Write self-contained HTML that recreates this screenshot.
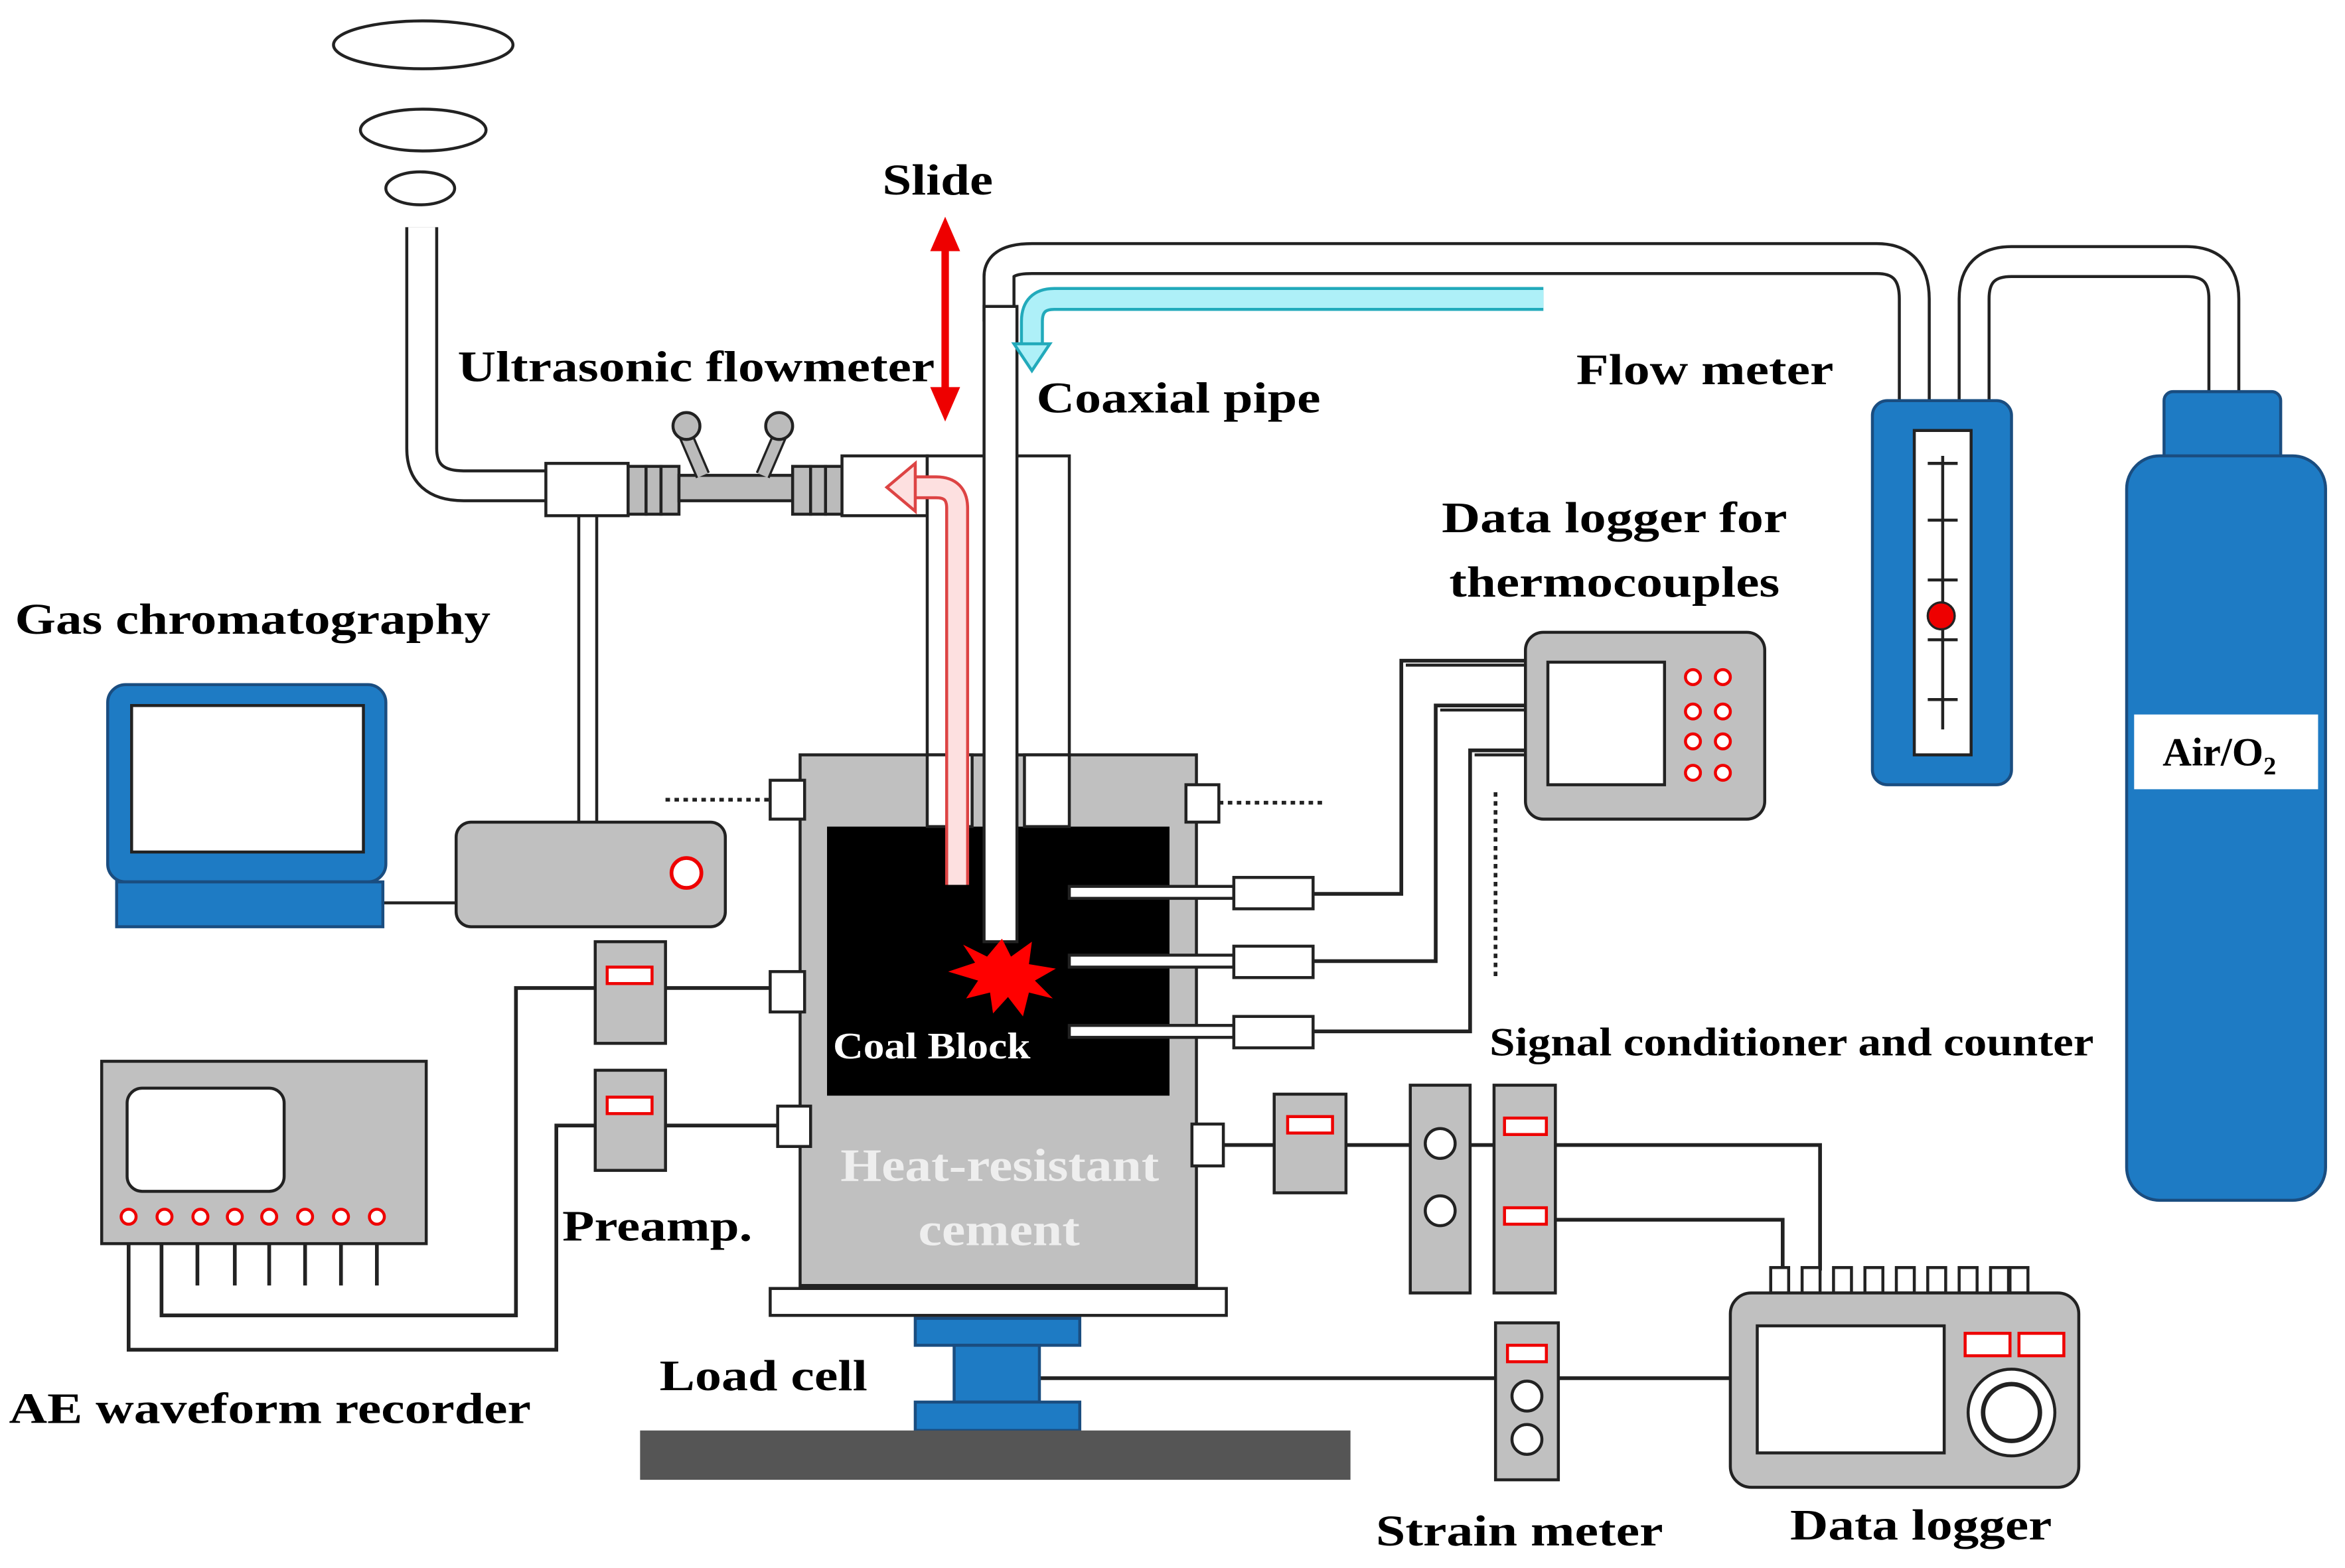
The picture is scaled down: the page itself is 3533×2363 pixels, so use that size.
<!DOCTYPE html>
<html><head><meta charset="utf-8"><style>
html,body{margin:0;padding:0;background:#fff;}
svg{display:block;}
text{font-family:"Liberation Serif",serif;font-weight:bold;}
</style></head><body>
<svg width="3533" height="2363" viewBox="0 0 1568 1049" preserveAspectRatio="none" xmlns="http://www.w3.org/2000/svg">
<rect width="1568" height="1049" fill="#fff"/>
<g fill="#fff" stroke="#222" stroke-width="2">
<ellipse cx="283" cy="30" rx="60" ry="16"/>
<ellipse cx="283" cy="87" rx="42" ry="14"/>
<ellipse cx="281" cy="126" rx="23" ry="11"/>
</g>
<g fill="none" stroke-linejoin="round">
<path d="M282 152 V300 Q282 325 310 325 H370" stroke="#222" stroke-width="22"/>
<path d="M282 152 V300 Q282 325 310 325 H370" stroke="#fff" stroke-width="18"/>
<path d="M668 215 V185 Q668 173 690 173 H1255 Q1280 173 1280 200 V270" stroke="#222" stroke-width="22"/>
<path d="M668 215 V185 Q668 173 690 173 H1255 Q1280 173 1280 200 V270" stroke="#fff" stroke-width="18"/>
<path d="M1320 268 V200 Q1320 175 1345 175 H1462 Q1487 175 1487 200 V265" stroke="#222" stroke-width="22"/>
<path d="M1320 268 V200 Q1320 175 1345 175 H1462 Q1487 175 1487 200 V265" stroke="#fff" stroke-width="18"/>
<path d="M393 340 V552" stroke="#222" stroke-width="14"/>
<path d="M393 340 V552" stroke="#fff" stroke-width="10"/>
</g>
<g stroke="#222" stroke-width="2">
<rect x="365" y="310" width="55" height="35" fill="#fff"/>
<rect x="420" y="312" width="12" height="32" fill="#bbb"/>
<rect x="432" y="312" width="10" height="32" fill="#bbb"/>
<rect x="442" y="312" width="12" height="32" fill="#bbb"/>
<rect x="454" y="318" width="76" height="17" fill="#bbb"/>
<rect x="530" y="312" width="12" height="32" fill="#bbb"/>
<rect x="542" y="312" width="10" height="32" fill="#bbb"/>
<rect x="552" y="312" width="12" height="32" fill="#bbb"/>
<path d="M470 318 L458 290" stroke-width="10" stroke="#222"/><path d="M470 318 L458 290" stroke-width="7" stroke="#bbb"/>
<path d="M510 318 L522 290" stroke-width="10" stroke="#222"/><path d="M510 318 L522 290" stroke-width="7" stroke="#bbb"/>
<circle cx="459" cy="285" r="9" fill="#bbb"/><circle cx="521" cy="285" r="9" fill="#bbb"/>
<rect x="563" y="305" width="57" height="40" fill="#fff"/>
</g>
<rect x="305" y="550" width="180" height="70" rx="10" fill="#c0c0c0" stroke="#222" stroke-width="2"/>
<circle cx="459" cy="584" r="10" fill="#fff" stroke="#e00" stroke-width="2.5"/>
<path d="M256 604 H305" stroke="#222" stroke-width="2"/>
<rect x="72" y="458" width="186" height="132" rx="12" fill="#1e7bc4" stroke="#1a4d80" stroke-width="2"/>
<rect x="88" y="472" width="155" height="98" fill="#fff" stroke="#222" stroke-width="2"/>
<rect x="78" y="590" width="178" height="30" fill="#1e7bc4" stroke="#1a4d80" stroke-width="2"/>
<rect x="535" y="505" width="265" height="355" fill="#c0c0c0" stroke="#222" stroke-width="2"/>
<rect x="553" y="553" width="229" height="180" fill="#000"/>
<rect x="620" y="305" width="95" height="200" fill="#fff" stroke="#222" stroke-width="2"/>
<rect x="620" y="505" width="30" height="48" fill="#fff" stroke="#222" stroke-width="2"/>
<rect x="685" y="505" width="30" height="48" fill="#fff" stroke="#222" stroke-width="2"/>
<rect x="658" y="205" width="22" height="425" fill="#fff" stroke="#222" stroke-width="2"/>
<path d="M640 592 V340 Q640 326 626 326 H610" fill="none" stroke="#d44" stroke-width="16"/>
<path d="M640 592 V340 Q640 326 626 326 H610" fill="none" stroke="#fde0e0" stroke-width="12"/>
<path d="M612 310 L593 326 L612 342 Z" fill="#fde0e0" stroke="#d44" stroke-width="2"/>
<path d="M1032 200 H705 Q690 200 690 215 V232" fill="none" stroke="#2ab" stroke-width="16"/>
<path d="M1032 200 H705 Q690 200 690 215 V232" fill="none" stroke="#aef0f8" stroke-width="12"/>
<path d="M678 230 L690 248 L702 230 Z" fill="#aef0f8" stroke="#2ab" stroke-width="2"/>
<polygon points="670,628 676,640 690,630 688,645 706,648 692,656 704,668 688,664 684,680 674,667 664,678 662,664 646,668 654,656 634,650 652,644 644,632 660,640" fill="#f00"/>
<path d="M632 165 V262" stroke="#e00" stroke-width="5"/>
<polygon points="632,145 622,168 642,168" fill="#e00"/>
<polygon points="632,282 622,259 642,259" fill="#e00"/>
<g fill="#fff" stroke="#222" stroke-width="2">
<rect x="515" y="522" width="23" height="26"/>
<rect x="793" y="525" width="22" height="25"/>
<rect x="515" y="650" width="23" height="27"/>
<rect x="520" y="740" width="22" height="27"/>
<rect x="797" y="752" width="21" height="28"/>
</g>
<g stroke="#222" stroke-width="2.5" stroke-dasharray="3,3" fill="none">
<path d="M445 535 H515"/><path d="M815 537 H885"/><path d="M1000 530 V655"/>
</g>
<g stroke="#222" stroke-width="2" fill="#fff">
<rect x="715" y="593" width="110" height="8"/><rect x="825" y="587" width="53" height="21"/>
<rect x="715" y="639" width="110" height="8"/><rect x="825" y="633" width="53" height="21"/>
<rect x="715" y="686" width="110" height="8"/><rect x="825" y="680" width="53" height="21"/>
</g>
<g stroke="#222" stroke-width="2.5" fill="none">
<path d="M878 598 H937 V442 H1020"/>
<path d="M878 643 H960 V472 H1020"/>
<path d="M878 690 H983 V502 H1020"/>
</g>
<g stroke="#222" stroke-width="2" fill="none">
<path d="M940 445 H1020 M963 475 H1020 M986 505 H1020"/>
</g>
<rect x="1020" y="423" width="160" height="125" rx="12" fill="#c0c0c0" stroke="#222" stroke-width="2"/>
<rect x="1035" y="443" width="78" height="82" fill="#fff" stroke="#222" stroke-width="2"/>
<g fill="#fff" stroke="#e00" stroke-width="2">
<circle cx="1132" cy="453" r="5"/><circle cx="1152" cy="453" r="5"/>
<circle cx="1132" cy="476" r="5"/><circle cx="1152" cy="476" r="5"/>
<circle cx="1132" cy="496" r="5"/><circle cx="1152" cy="496" r="5"/>
<circle cx="1132" cy="517" r="5"/><circle cx="1152" cy="517" r="5"/>
</g>
<rect x="1252" y="268" width="93" height="257" rx="10" fill="#1e7bc4" stroke="#1a4d80" stroke-width="2"/>
<rect x="1280" y="288" width="38" height="217" fill="#fff" stroke="#222" stroke-width="2"/>
<g stroke="#222" stroke-width="2"><path d="M1299 305 V488 M1289 310 H1309 M1289 348 H1309 M1289 388 H1309 M1289 428 H1309 M1289 468 H1309"/></g>
<circle cx="1298" cy="412" r="9" fill="#e00" stroke="#222" stroke-width="1.5"/>
<rect x="1447" y="262" width="78" height="50" rx="6" fill="#1e7bc4" stroke="#1a4d80" stroke-width="2"/>
<rect x="1422" y="305" width="133" height="498" rx="22" fill="#1e7bc4" stroke="#1a4d80" stroke-width="2"/>
<rect x="1427" y="478" width="123" height="50" fill="#fff"/>
<text x="1446" y="512" font-size="27">Air/O<tspan font-size="17" dy="6">2</tspan></text>
<g stroke="#222" stroke-width="2.5" fill="none">
<path d="M445 661 H515"/><path d="M445 753 H520"/>
<path d="M398 661 H345 V880 H108 V832"/>
<path d="M398 753 H372 V903 H86 V832"/>
<path d="M818 766 H852"/>
<path d="M900 766 H943"/>
<path d="M983 766 H999"/>
<path d="M1040 766 H1217 V850"/>
<path d="M1040 816 H1192 V850"/>
<path d="M695 922 H1000"/>
<path d="M1042 922 H1157"/>
</g>
<g stroke="#222" stroke-width="2" fill="#c0c0c0">
<rect x="398" y="630" width="47" height="68"/>
<rect x="398" y="716" width="47" height="67"/>
<rect x="852" y="732" width="48" height="66"/>
<rect x="943" y="726" width="40" height="139"/>
<rect x="999" y="726" width="41" height="139"/>
<rect x="1000" y="885" width="42" height="105"/>
</g>
<g fill="#fff" stroke="#e00" stroke-width="2">
<rect x="406" y="647" width="30" height="11"/>
<rect x="406" y="734" width="30" height="11"/>
<rect x="861" y="747" width="30" height="11"/>
<rect x="1006" y="748" width="28" height="11"/>
<rect x="1006" y="808" width="28" height="11"/>
<rect x="1008" y="900" width="26" height="11"/>
</g>
<g fill="#fff" stroke="#222" stroke-width="2">
<circle cx="963" cy="765" r="10"/><circle cx="963" cy="810" r="10"/>
<circle cx="1021" cy="934" r="10"/><circle cx="1021" cy="963" r="10"/>
</g>
<rect x="68" y="710" width="217" height="122" fill="#c0c0c0" stroke="#222" stroke-width="2"/>
<rect x="85" y="728" width="105" height="69" rx="10" fill="#fff" stroke="#222" stroke-width="2"/>
<g fill="#fff" stroke="#e00" stroke-width="2">
<circle cx="86" cy="814" r="5"/><circle cx="110" cy="814" r="5"/><circle cx="134" cy="814" r="5"/><circle cx="157" cy="814" r="5"/><circle cx="180" cy="814" r="5"/><circle cx="204" cy="814" r="5"/><circle cx="228" cy="814" r="5"/><circle cx="252" cy="814" r="5"/>
</g>
<g stroke="#222" stroke-width="2.5"><path d="M132 832 V860 M157 832 V860 M180 832 V860 M204 832 V860 M228 832 V860 M252 832 V860"/></g>
<rect x="515" y="862" width="305" height="18" fill="#fff" stroke="#222" stroke-width="2"/>
<rect x="612" y="882" width="110" height="18" fill="#1e7bc4" stroke="#1a4d80" stroke-width="2"/>
<rect x="638" y="900" width="57" height="38" fill="#1e7bc4" stroke="#1a4d80" stroke-width="2"/>
<rect x="612" y="938" width="110" height="19" fill="#1e7bc4" stroke="#1a4d80" stroke-width="2"/>
<rect x="428" y="957" width="475" height="33" fill="#555"/>
<g fill="#fff" stroke="#222" stroke-width="2">
<rect x="1184" y="848" width="12" height="17"/><rect x="1205" y="848" width="12" height="17"/><rect x="1226" y="848" width="12" height="17"/><rect x="1247" y="848" width="12" height="17"/><rect x="1268" y="848" width="12" height="17"/><rect x="1289" y="848" width="12" height="17"/><rect x="1310" y="848" width="12" height="17"/><rect x="1331" y="848" width="12" height="17"/><rect x="1344" y="848" width="12" height="17"/>
</g>
<rect x="1157" y="865" width="233" height="130" rx="14" fill="#c0c0c0" stroke="#222" stroke-width="2"/>
<rect x="1175" y="887" width="125" height="85" fill="#fff" stroke="#222" stroke-width="2"/>
<rect x="1314" y="892" width="30" height="15" fill="#fff" stroke="#e00" stroke-width="2"/>
<rect x="1350" y="892" width="30" height="15" fill="#fff" stroke="#e00" stroke-width="2"/>
<circle cx="1345" cy="945" r="29" fill="#fff" stroke="#222" stroke-width="2"/>
<circle cx="1345" cy="945" r="19" fill="#fff" stroke="#222" stroke-width="3"/>
<g font-size="29" fill="#000" lengthAdjust="spacingAndGlyphs">
<text x="590" y="130" textLength="74" lengthAdjust="spacingAndGlyphs">Slide</text>
<text x="306" y="255" textLength="319" lengthAdjust="spacingAndGlyphs">Ultrasonic flowmeter</text>
<text x="693" y="276" textLength="190" lengthAdjust="spacingAndGlyphs">Coaxial pipe</text>
<text x="1054" y="257" textLength="172" lengthAdjust="spacingAndGlyphs">Flow meter</text>
<text x="964" y="356" textLength="231" lengthAdjust="spacingAndGlyphs">Data logger for</text>
<text x="969" y="399" textLength="221" lengthAdjust="spacingAndGlyphs">thermocouples</text>
<text x="10" y="424" textLength="318" lengthAdjust="spacingAndGlyphs">Gas chromatography</text>
<text x="996" y="706" font-size="27" textLength="404" lengthAdjust="spacingAndGlyphs">Signal conditioner and counter</text>
<text x="376" y="830" textLength="127" lengthAdjust="spacingAndGlyphs">Preamp.</text>
<text x="441" y="930" textLength="139" lengthAdjust="spacingAndGlyphs">Load cell</text>
<text x="6" y="952" textLength="349" lengthAdjust="spacingAndGlyphs">AE waveform recorder</text>
<text x="920" y="1034" textLength="192" lengthAdjust="spacingAndGlyphs">Strain meter</text>
<text x="1197" y="1030" textLength="175" lengthAdjust="spacingAndGlyphs">Data logger</text>
</g>
<text x="557" y="708" font-size="25" fill="#fff" textLength="132" lengthAdjust="spacingAndGlyphs">Coal Block</text>
<text x="562" y="790" font-size="31" fill="#eee" textLength="213" lengthAdjust="spacingAndGlyphs">Heat-resistant</text>
<text x="614" y="833" font-size="31" fill="#eee" textLength="108" lengthAdjust="spacingAndGlyphs">cement</text>
</svg>
</body></html>
